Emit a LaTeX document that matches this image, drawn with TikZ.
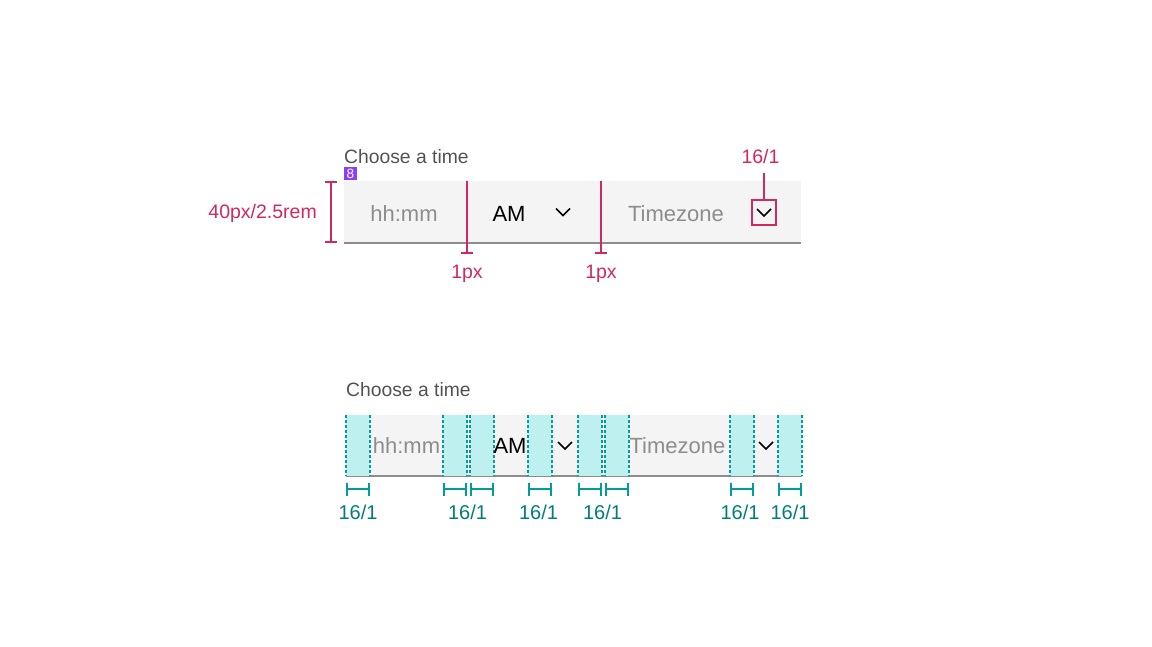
\documentclass[tikz,border=0pt]{standalone}
\usepackage{fontspec}
\setmainfont{Liberation Sans}
\usetikzlibrary{positioning,arrows.meta}
\definecolor{spec}{HTML}{D12765}
\definecolor{pad}{HTML}{009D9A}
\definecolor{padtext}{HTML}{007D79}
\definecolor{padfill}{HTML}{BDF0EF}
\definecolor{field}{HTML}{F4F4F4}
\definecolor{fieldrule}{HTML}{8D8D8D}
\definecolor{labeltext}{HTML}{525252}
\definecolor{holdertext}{HTML}{8D8D8D}
\definecolor{badge}{HTML}{8A3FFC}

\begin{document}
\begin{tikzpicture}[
		x=1pt, y=-1pt,
		lbl/.style={font=\fontsize{19.3}{22}\selectfont, text=labeltext, anchor=base west, inner sep=0},
		holder/.style={font=\fontsize{22}{25}\selectfont, text=holdertext, anchor=base, inner sep=0},
		val/.style={font=\fontsize{22}{25}\selectfont, text=black, anchor=base, inner sep=0},
		speclbl/.style={font=\fontsize{19.5}{22}\selectfont, text=spec, anchor=base, inner sep=0},
		padlbl/.style={font=\fontsize{20}{23}\selectfont, text=padtext, anchor=base, inner sep=0},
		specline/.style={draw=spec, line width=1.6pt},
		padline/.style={draw=pad, line width=1.6pt, {Bar[width=13pt]}-{Bar[width=13pt]}},
		padedge/.style={draw=pad, line width=1.2pt, dash pattern=on 3pt off 2pt},
		chev/.pic={\draw[line width=1.5pt, line join=miter] (-7,-3.5) -- (0,3.5) -- (7,-3.5);},
%		field/.style={fill=field}
		]
		\useasboundingbox (0,0) rectangle (1152,646);

		% top field, with spec marks
		\fill[field] (344,181) rectangle (801,243);
		\draw[fieldrule, line width=1.3pt] (344,243) -- (801,243);
		\node[lbl] (topLabel) at (344,163) {Choose a time};
		\node[fill=badge, text=white, font=\fontsize{13.5}{13.5}\selectfont, inner sep=0,
			minimum width=13pt, minimum height=13pt] (badge) at (350.5,173.5) {8};
		\node[holder] (topTime) at (404,221) {hh:mm};
		\node[val] (topAM) at (509,221) {AM};
		\pic (topChevA) at (563,212) {chev};
		\node[holder] (topZone) at (676,221) {Timezone};
		\pic (topChevB) at (764,212.5) {chev};
		\node[draw=spec, line width=1.6pt, minimum width=24pt, minimum height=25pt, inner sep=0]
			(chevBox) at (764,212.5) {};

		\coordinate (hTop) at (331,181);
		\coordinate (hBot) at (331,243);
		\draw[specline, {Bar[width=12pt]}-{Bar[width=12pt]}] (hTop) -- (hBot);
		\node[speclbl, anchor=base east] (hLbl) at (317,218) {40px/2.5rem};

		\coordinate (divA) at (467,181);
		\coordinate (divAend) at (467,254);
		\draw[specline, -{Bar[width=12pt]}] (divA) -- (divAend);
		\node[speclbl] (divAlbl) at (467,278) {1px};
		\coordinate (divB) at (601,181);
		\coordinate (divBend) at (601,254);
		\draw[specline, -{Bar[width=12pt]}] (divB) -- (divBend);
		\node[speclbl] (divBlbl) at (601,278) {1px};

		\coordinate (boxLead) at (764,173);
		\draw[specline] (chevBox.north) -- (boxLead);
		\node[speclbl] (boxLbl) at (760.5,163) {16/1};

		% bottom field, with padding
		\fill[field] (346,415) rectangle (802,476);
		\draw[fieldrule, line width=1.3pt] (346,476) -- (802,476);
		\node[lbl] (botLabel) at (346,396) {Choose a time};
		\foreach \l [count=\i] in {346,443,470,528,578,605,730,778}{
			\fill[padfill] (\l,415) rectangle ++(24,61);
			\draw[padedge] (\l,415) -- (\l,476);
			\draw[padedge] (\l+24,415) -- (\l+24,476);
			\coordinate (padL\i) at (\l,489);
			\coordinate (padR\i) at (\l+24,489);
			\draw[padline] (padL\i) -- (padR\i);
		}
		\node[holder] (botTime) at (406.5,453) {hh:mm};
		\node[val] (botAM) at (510,453) {AM};
		\pic (botChevA) at (565,445.5) {chev};
		\node[holder] (botZone) at (677.5,453) {Timezone};
		\pic (botChevB) at (766,445.5) {chev};

		\foreach \x [count=\i] in {358,467.5,538.5,602.5,740,790}{
			\node[padlbl] (padLbl\i) at (\x,519) {16/1};
		}
\end{tikzpicture}
\end{document}
